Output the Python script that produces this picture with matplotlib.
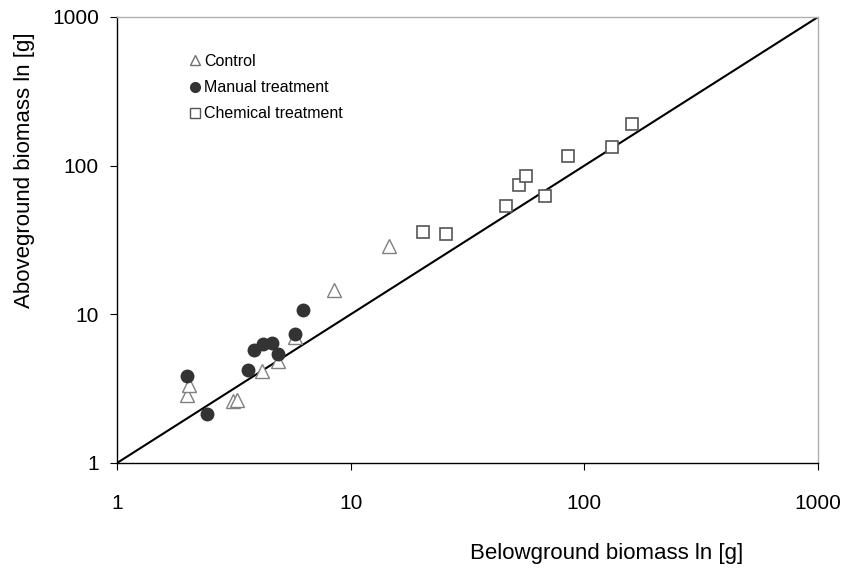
import numpy as np
import matplotlib
matplotlib.use('Agg')
import matplotlib.pyplot as plt
from matplotlib.lines import Line2D

plt.rcParams['font.family'] = ['Liberation Sans', 'DejaVu Sans']

# Control
ctrl_x = [2.0, 2.03, 3.13, 3.25, 4.19, 4.9, 5.78, 8.48, 14.6]
ctrl_y = [2.87, 3.35, 2.61, 2.65, 4.16, 4.88, 7.0, 14.6, 28.8]

# Manual treatment
man_x = [2.0, 2.43, 3.64, 3.86, 4.2, 4.62, 4.9, 5.8, 6.27]
man_y = [3.85, 2.15, 4.24, 5.75, 6.29, 6.38, 5.38, 7.41, 10.7]

# Chemical treatment
chem_x = [20.4, 25.6, 46, 52.6, 56.4, 68, 85.3, 131.6, 160]
chem_y = [35.6, 34.5, 53.2, 73.7, 85.1, 62.8, 115.6, 134, 191]

ticks = [1, 10, 100, 1000]
tick_labels = ['1', '10', '100', '1000']

fig = plt.figure(figsize=(8.45, 5.77), dpi=100)
ax = fig.add_axes([117/845, 1-463/577, (818-117)/845, (463-17)/577])

ax.plot([1, 1000], [1, 1000], color='black', lw=1.5, zorder=2)

ax.plot(ctrl_x, ctrl_y, '^', ms=9.5, mfc='white', mec='#808080', mew=1.0, ls='none', zorder=3)
ax.plot(man_x, man_y, 'o', ms=9, mfc='#333333', mec='#333333', ls='none', zorder=4)
ax.plot(chem_x, chem_y, 's', ms=9, mfc='white', mec='#555555', mew=1.2, ls='none', zorder=3)

ax.set_xscale('log')
ax.set_yscale('log')
ax.set_xlim(1, 1000)
ax.set_ylim(1, 1000)
ax.set_xticks(ticks)
ax.set_xticklabels(tick_labels)
ax.set_yticks(ticks)
ax.set_yticklabels(tick_labels)
ax.minorticks_off()
ax.tick_params(axis='x', direction='out', length=5, pad=17, labelsize=15)
ax.tick_params(axis='y', direction='out', length=5, pad=8, labelsize=15)

for s in ['top', 'right']:
    ax.spines[s].set_color('#b0b0b0')
    ax.spines[s].set_linewidth(1.0)
for s in ['left', 'bottom']:
    ax.spines[s].set_color('black')
    ax.spines[s].set_linewidth(1.0)

handles = [
    Line2D([], [], marker='^', ms=7, mfc='white', mec='#707070', ls='none'),
    Line2D([], [], marker='o', ms=7, mfc='#333333', mec='#333333', ls='none'),
    Line2D([], [], marker='s', ms=7, mfc='white', mec='#555555', ls='none'),
]
ax.legend(handles, ['Control', 'Manual treatment', 'Chemical treatment'],
          loc='upper left', bbox_to_anchor=(0.093, 0.935), frameon=False,
          fontsize=11.5, handlelength=0.6, handletextpad=0.25, labelspacing=0.7,
          borderpad=0)

fig.text(607/845, 1-553/577, 'Belowground biomass ln [g]', ha='center', va='center', fontsize=16)
fig.text(25/845, 1-170/577, 'Aboveground biomass ln [g]', ha='center', va='center',
         rotation=90, fontsize=16)

fig.savefig('out.png', dpi=100)
